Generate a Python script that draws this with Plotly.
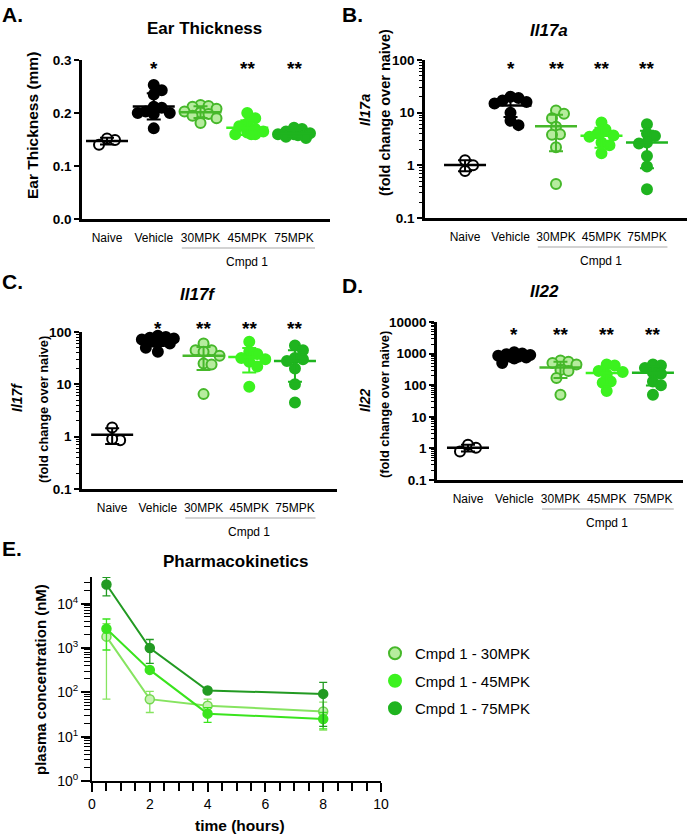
import numpy as np
import plotly.graph_objects as go

W, H = 688, 837
FONT = "Liberation Sans"

groups = ["Naive", "Vehicle", "30MPK", "45MPK", "75MPK"]

# A. ear thickness (mm)
ear_naive = [0.140, 0.149, 0.152]
ear_vehicle = [0.253, 0.243, 0.235, 0.212, 0.210, 0.203, 0.200, 0.200, 0.198, 0.171]
ear_30 = [0.215, 0.213, 0.212, 0.208, 0.203, 0.201, 0.198, 0.195, 0.190, 0.181]
ear_45 = [0.200, 0.190, 0.180, 0.175, 0.170, 0.165, 0.163, 0.160, 0.160, 0.160]
ear_75 = [0.172, 0.170, 0.165, 0.162, 0.160, 0.160, 0.160, 0.158, 0.155, 0.153]

# B. Il17a fold change
il17a_naive = [1.25, 1.0, 0.78]
il17a_vehicle = [20, 19, 17, 16, 15, 10, 7, 5.8]
il17a_30 = [11, 9.5, 7.8, 5.4, 3.9, 3.8, 2.2, 0.44]
il17a_45 = [6.5, 4.8, 4.0, 3.7, 3.5, 2.7, 2.4, 1.7]
il17a_75 = [6.0, 4.0, 3.6, 2.7, 2.6, 1.5, 0.95, 0.35]

# C. Il17f fold change
il17f_naive = [1.5, 0.85, 0.9]
il17f_vehicle = [85, 80, 78, 75, 72, 70, 65, 60, 50, 42]
il17f_30 = [60, 45, 45, 42, 35, 25, 24, 6.5]
il17f_45 = [65, 42, 38, 32, 30, 27, 22, 9]
il17f_75 = [55, 45, 32, 30, 28, 20, 10, 4.5]

# D. Il22 fold change
il22_naive = [1.3, 1.05, 0.8]
il22_vehicle = [1100, 1000, 950, 900, 850, 800, 800, 750, 700, 500]
il22_30 = [600, 550, 500, 450, 300, 280, 170, 50]
il22_45 = [450, 420, 280, 260, 220, 130, 120, 65]
il22_75 = [450, 420, 350, 250, 230, 130, 100, 50]

# E. pharmacokinetics (nM)
pk_time = [0.5, 2, 4, 8]
pk_30_mean = [1800, 70, 50, 37]
pk_30_sd = [1730, 35, 20, 23]
pk_45_mean = [2700, 320, 33, 25]
pk_45_sd = [1800, 40, 12, 10]
pk_75_mean = [27000, 1000, 110, 92]
pk_75_sd = [12000, 550, 10, 75]
pk_names = ["Cmpd 1 - 30MPK", "Cmpd 1 - 45MPK", "Cmpd 1 - 75MPK"]

C30_EDGE, C30_FILL = "#46b82a", "#b6ec9e"
C45 = "#3cf21f"
C75 = "#1fb41f"

marker_styles = [
    dict(color="white", line=dict(color="black", width=2)),
    dict(color="black", line=dict(color="black", width=2)),
    dict(color=C30_FILL, line=dict(color=C30_EDGE, width=2)),
    dict(color=C45, line=dict(color=C45, width=2)),
    dict(color=C75, line=dict(color=C75, width=2)),
]
bar_colors = ["black", "black", C30_EDGE, C45, C75]


def pxx(a):
    return a / W


def pxy(b):
    return 1 - b / H


def swarm(vals, log, ppx, ppy, d=8.0, maxw=16.0):
    # simple beeswarm limited to +-maxw px: points overlap once it gets crowded
    v = np.log10(vals) if log else np.asarray(vals, float)
    ys = v * ppy
    offs = np.zeros(len(v))
    placed = []
    step = d / 2
    cands = [0.0]
    k = 1
    while k * step <= maxw:
        cands += [k * step, -k * step]
        k += 1
    for i in np.argsort(-ys):
        best, best_d = 0.0, -1
        for c in cands:
            dmin = min([np.hypot(c - px, ys[i] - py) for px, py in placed] or [99])
            if dmin >= d:
                best = c
                break
            if dmin > best_d + 0.5:
                best, best_d = c, dmin
        offs[i] = best
        placed.append((best, ys[i]))
    return offs / ppx


fig = go.Figure()
axes = {}
ann = []
shapes = []


def group_panel(n, data, xpx, ypx, xr, yr, log, yticks, ytext, stars, star_y):
    xa = "x" if n == 1 else "x%d" % n
    ya = "y" if n == 1 else "y%d" % n
    ppx = (xpx[1] - xpx[0]) / (xr[1] - xr[0])
    ppy = (ypx[1] - ypx[0]) / (yr[1] - yr[0])
    for i, vals in enumerate(data):
        off = swarm(vals, log, ppx, ppy)
        fig.add_trace(go.Scatter(
            x=i + off, y=vals, mode="markers", xaxis=xa, yaxis=ya,
            marker=dict(size=10, **marker_styles[i]), showlegend=False,
            cliponaxis=False, hoverinfo="y"))
    for i, vals in enumerate(data):
        m, s = np.mean(vals), np.std(vals, ddof=1)
        fig.add_trace(go.Scatter(
            x=[i], y=[m], mode="markers", xaxis=xa, yaxis=ya,
            marker=dict(symbol="line-ew", size=30, line=dict(color=bar_colors[i], width=2.5)),
            error_y=dict(type="data", array=[s], color=bar_colors[i], thickness=2, width=7),
            showlegend=False, cliponaxis=False, hoverinfo="skip"))
    key = "axis" if n == 1 else "axis%d" % n
    axes["x" + key] = dict(
        domain=[pxx(xpx[0]), pxx(xpx[1])], range=xr, anchor=ya, automargin=False,
        showline=True, linecolor="black", linewidth=2.5, ticks="",
        tickvals=list(range(len(groups))), ticktext=groups, showgrid=False,
        zeroline=False, ticklabelstandoff=6,
        tickfont=dict(family=FONT, size=12, color="black"))
    yax = dict(
        domain=[pxy(ypx[1]), pxy(ypx[0])], range=yr, anchor=xa, automargin=False,
        showline=True, linecolor="black", linewidth=2.5, ticks="outside",
        ticklen=5, tickwidth=2, tickcolor="black", showgrid=False, zeroline=False,
        tickvals=yticks, ticktext=ytext,
        tickfont=dict(family=FONT, size=13.5, color="black", weight="bold"))
    if log:
        yax["type"] = "log"
        minor = [k * 10.0 ** e for e in range(int(yr[0]), int(yr[1])) for k in range(2, 10)]
        yax["minor"] = dict(tickvals=minor, ticks="outside", ticklen=3, tickwidth=1,
                            tickcolor="black", showgrid=False)
    axes["y" + key] = yax
    for i, s in enumerate(stars):
        if s:
            ann.append(dict(x=i, y=pxy(star_y), xref=xa, yref="paper", text="<b>%s</b>" % s,
                            showarrow=False, yshift=-5, xanchor="center", yanchor="middle",
                            font=dict(family=FONT, size=19, color="black")))
    line_y = ypx[1] + 29
    shapes.append(dict(type="line", xref=xa, yref="paper", x0=1.6, x1=4.45,
                       y0=pxy(line_y), y1=pxy(line_y), line=dict(color="#a8a8a8", width=1.2)))
    ann.append(dict(x=3, y=pxy(line_y + 14), xref=xa, yref="paper", text="Cmpd 1",
                    showarrow=False, xanchor="center", yanchor="middle",
                    font=dict(family=FONT, size=12, color="black")))


group_panel(1, [ear_naive, ear_vehicle, ear_30, ear_45, ear_75],
            [82, 330], [60, 219], [-0.535, 4.77], [0, 0.3], False,
            [0, 0.1, 0.2, 0.3], ["0.0", "0.1", "0.2", "0.3"],
            ["", "*", "", "**", "**"], 63)
group_panel(2, [il17a_naive, il17a_vehicle, il17a_30, il17a_45, il17a_75],
            [425, 687], [60, 218], [-0.88, 4.88], [-1, 2], True,
            [0.1, 1, 10, 100], ["0.1", "1", "10", "100"],
            ["", "*", "**", "**", "**"], 63)
group_panel(3, [il17f_naive, il17f_vehicle, il17f_30, il17f_45, il17f_75],
            [82, 337], [332, 489], [-0.66, 4.92], [-1, 2], True,
            [0.1, 1, 10, 100], ["0.1", "1", "10", "100"],
            ["", "*", "**", "**", "**"], 323)
group_panel(4, [il22_naive, il22_vehicle, il22_30, il22_45, il22_75],
            [437, 683], [322, 480], [-0.67, 4.65], [-1, 4], True,
            [0.1, 1, 10, 100, 1000, 10000], ["0.1", "1", "10", "100", "1000", "10000"],
            ["", "*", "**", "**", "**"], 329)

# E. pharmacokinetics
pk_means = [pk_30_mean, pk_45_mean, pk_75_mean]
pk_sds = [pk_30_sd, pk_45_sd, pk_75_sd]
pk_line = ["#86e460", "#3ae41d", "#229a22"]
pk_marker = [dict(color="#c8f2b4", line=dict(color="#72d84e", width=1.5)),
             dict(color="#3ae41d", line=dict(color="#3ae41d", width=1.5)),
             dict(color="#229a22", line=dict(color="#229a22", width=1.5))]
legend_marker = [dict(color=C30_FILL, line=dict(color=C30_EDGE, width=2)),
                 dict(color=C45, line=dict(color=C45, width=2)),
                 dict(color=C75, line=dict(color=C75, width=2))]
for k in range(3):
    fig.add_trace(go.Scatter(
        x=pk_time, y=pk_means[k], mode="lines+markers", xaxis="x5", yaxis="y5",
        line=dict(color=pk_line[k], width=2), marker=dict(size=9, **pk_marker[k]),
        error_y=dict(type="data", array=pk_sds[k], color=pk_line[k], thickness=1.3, width=4),
        showlegend=False, cliponaxis=False))
for k in range(3):
    fig.add_trace(go.Scatter(
        x=[None], y=[None], mode="markers", name=pk_names[k], legendgroup=pk_names[k],
        marker=dict(size=12, **legend_marker[k]), xaxis="x5", yaxis="y5"))

axes["xaxis5"] = dict(
    domain=[pxx(92), pxx(381)], range=[0, 10], anchor="y5", showline=True, automargin=False,
    linecolor="black", linewidth=2, ticks="outside", ticklen=9, tickwidth=1.5,
    tickcolor="black", tickvals=[0, 2, 4, 6, 8, 10], showgrid=False, zeroline=False,
    minor=dict(dtick=0.5, ticks="outside", ticklen=8, tickwidth=1.5, tickcolor="black"),
    tickfont=dict(family=FONT, size=14, color="black"))
pk_minor = [k * 10.0 ** e for e in range(0, 5) for k in range(2, 10)]
axes["yaxis5"] = dict(
    domain=[pxy(781), pxy(577)], range=[0, 4.6], type="log", anchor="x5", automargin=False,
    showline=True, linecolor="black", linewidth=2, ticks="outside", ticklen=9,
    tickwidth=1.5, tickcolor="black", showgrid=False, zeroline=False,
    tickvals=[1, 10, 100, 1000, 10000],
    ticktext=["10<sup>%d</sup>" % e for e in range(5)],
    minor=dict(tickvals=pk_minor, ticks="outside", ticklen=6, tickwidth=1, tickcolor="black"),
    tickfont=dict(family=FONT, size=14, color="black"))


# titles and labels
def text(x, y, s, size, angle=0):
    ann.append(dict(x=pxx(x), y=pxy(y), xref="paper", yref="paper", text=s,
                    showarrow=False, textangle=angle, xanchor="center", yanchor="middle",
                    font=dict(family=FONT, size=size, color="black")))


for lab, x, y in [("A.", 12, 15), ("B.", 352, 14), ("C.", 12, 281), ("D.", 352, 285), ("E.", 12, 548)]:
    text(x, y, "<b>%s</b>" % lab, 21)
text(204, 29, "<b>Ear Thickness</b>", 17)
text(549, 30, "<b><i>Il17a</i></b>", 17)
text(198, 294, "<b><i>Il17f</i></b>", 17)
text(544, 291, "<b><i>Il22</i></b>", 17)
text(236, 561, "<b>Pharmacokinetics</b>", 17)
text(33, 126, "<b>Ear Thickness (mm)</b>", 15.5, -90)
text(365, 110, "<b><i>Il17a</i></b>", 14.5, -90)
text(385, 113, "<b>(fold change over naive)</b>", 14.5, -90)
text(17, 398, "<b><i>Il17f</i></b>", 14, -90)
text(43, 410, "<b>(fold change over naive)</b>", 12.8, -90)
text(365, 400, "<b><i>Il22</i></b>", 14, -90)
text(384, 405, "<b>(fold change over naive)</b>", 12.8, -90)
text(40, 680, "<b>plasma concentration (nM)</b>", 15, -90)
text(240, 825, "<b>time (hours)</b>", 15.5)

fig.update_layout(
    width=W, height=H, margin=dict(l=0, r=0, t=0, b=0, autoexpand=False),
    paper_bgcolor="white", plot_bgcolor="white",
    font=dict(family=FONT, color="black"),
    annotations=ann, shapes=shapes,
    legend=dict(x=pxx(375), y=pxy(637), xanchor="left", yanchor="top",
                font=dict(family=FONT, size=15, color="black"),
                tracegroupgap=5, itemwidth=30, bgcolor="rgba(0,0,0,0)"),
    **axes)

fig.write_html("out.html", config={"displayModeBar": False},
               post_script="document.body.style.margin='0';")
